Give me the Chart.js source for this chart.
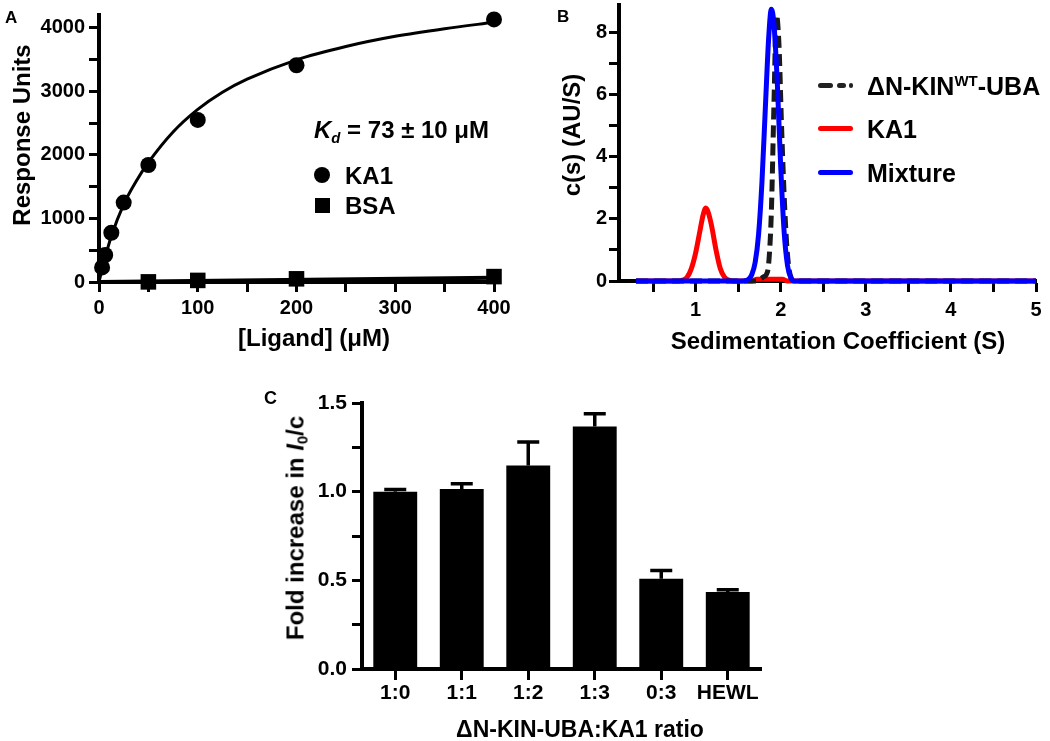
<!DOCTYPE html>
<html><head><meta charset="utf-8">
<script src="https://cdn.jsdelivr.net/npm/chart.js@4.4.1/dist/chart.umd.min.js"></script>
<style>
html,body{margin:0;padding:0;background:#fff;}
body{width:1050px;height:741px;position:relative;overflow:hidden;font-family:'Liberation Sans',Arial,Helvetica,sans-serif;font-weight:bold;color:#000;}
canvas{position:absolute;}
.t{position:absolute;white-space:nowrap;line-height:1;}
.c{transform:translate(-50%,-50%);}
.r{transform:translate(-50%,-50%) rotate(-90deg);}
.m{transform:translate(0,-50%);}
.sub{font-size:0.62em;vertical-align:-0.28em;}
.sup{font-size:0.6em;vertical-align:0.55em;}
.dot{position:absolute;background:#000;}
.ln{position:absolute;height:5px;border-radius:2.5px;}
</style></head><body>
<canvas id="ca" width="530" height="360" style="left:0;top:0"></canvas>
<canvas id="cb" width="520" height="360" style="left:530px;top:0"></canvas>
<canvas id="cc" width="550" height="381" style="left:250px;top:360px"></canvas>

<!-- panel letters -->
<div class="t" style="left:5px;top:9px;font-size:17px">A</div>
<div class="t" style="left:557px;top:8px;font-size:17px">B</div>
<div class="t" style="left:264px;top:389px;font-size:18px">C</div>

<!-- panel A text -->
<div class="t r" style="left:22px;top:135px;font-size:24px">Response Units</div>
<div class="t c" style="left:314px;top:338px;font-size:24px">[Ligand] (μM)</div>
<div class="t m" style="left:314px;top:132px;font-size:24px"><i>K<span class="sub">d</span></i> = 73 ± 10 μM</div>
<div class="dot" style="left:314px;top:167px;width:16px;height:16px;border-radius:50%"></div>
<div class="t m" style="left:345px;top:176px;font-size:24px">KA1</div>
<div class="dot" style="left:315px;top:198px;width:15px;height:15px"></div>
<div class="t m" style="left:345px;top:206px;font-size:24px">BSA</div>

<!-- panel B text -->
<div class="t r" style="left:572px;top:135px;font-size:24px">c(s) (AU/S)</div>
<div class="t c" style="left:838px;top:341px;font-size:24px">Sedimentation Coefficient (S)</div>
<div class="ln" style="left:818px;top:83px;width:15px;background:#222"></div>
<div class="ln" style="left:837px;top:83px;width:9px;background:#222"></div>
<div class="ln" style="left:849px;top:83px;width:4px;background:#222"></div>
<div class="t m" style="left:867px;top:86px;font-size:25px">ΔN-KIN<span class="sup">WT</span>-UBA</div>
<div class="ln" style="left:818px;top:126px;width:35px;background:#ff0000"></div>
<div class="t m" style="left:867px;top:129px;font-size:25px">KA1</div>
<div class="ln" style="left:818px;top:170px;width:35px;background:#0000ff"></div>
<div class="t m" style="left:867px;top:173px;font-size:25px">Mixture</div>

<!-- panel C text -->
<div class="t r" style="left:297px;top:528px;font-size:24px">Fold increase in <i>I</i><span class="sub">0</span>/c</div>
<div class="t c" style="left:580px;top:729px;font-size:23px">ΔN-KIN-UBA:KA1 ratio</div>

<script>
// ---------- Panel A data ----------
const ka1Conc = [3.125, 6.25, 12.5, 25, 50, 100, 200, 400];
const ka1Resp = [230, 425, 775, 1250, 1840, 2550, 3410, 4130];
const bsaConc = [50, 100, 200, 400];
const bsaResp = [2, 25, 50, 85];
const ka1FitConc = [0, 3.125, 6.25, 12.5, 25, 37.5, 50, 75, 100, 125, 150, 200, 250, 300, 350, 400];
const ka1FitResp = [0, 200, 390, 720, 1220, 1580, 1880, 2360, 2715, 2985, 3190, 3495, 3705, 3865, 3985, 4085];
const bsaFitConc = [0, 400];
const bsaFitResp = [0, 65];
const aXTicks = [0, 50, 100, 150, 200, 250, 300, 350, 400];
const aXLabels = [0, 100, 200, 300, 400];
const aYTicks = [0, 500, 1000, 1500, 2000, 2500, 3000, 3500, 4000];
const aYLabels = [0, 1000, 2000, 3000, 4000];

// ---------- Panel B data ----------
const sedKA1 = [0.3, 0.80, 0.85, 0.90, 0.95, 1.00, 1.05, 1.09, 1.12, 1.15, 1.19, 1.24, 1.29, 1.34, 1.39, 1.44, 1.66, 1.72, 2.02, 2.08, 5.0];
const csKA1  = [0,   0,    0.03, 0.12, 0.40, 0.90, 1.60, 2.15, 2.35, 2.20, 1.75, 1.00, 0.40, 0.12, 0.03, 0,    0,    0.06, 0.06, 0,    0];
const sedMix = [0.3, 1.55, 1.62, 1.66, 1.70, 1.74, 1.78, 1.82, 1.86, 1.89, 1.92, 1.96, 2.00, 2.04, 2.08, 2.12, 2.16, 5.0];
const csMix  = [0,   0,    0.05, 0.20, 0.60, 1.50, 3.20, 5.60, 7.90, 8.76, 8.30, 6.40, 3.70, 1.60, 0.50, 0.10, 0,    0];
const sedWT  = [0.3, 1.72, 1.77, 1.80, 1.83, 1.86, 1.89, 1.92, 1.95, 1.98, 2.01, 2.04, 2.07, 2.10, 2.13, 2.16, 5.0];
const csWT   = [0,   0,    0.08, 0.14, 0.20, 0.60, 2.20, 5.60, 8.58, 7.60, 5.00, 2.80, 1.20, 0.35, 0.06, 0,    0];
const bXTicks = [0.5, 1, 1.5, 2, 2.5, 3, 3.5, 4, 4.5, 5];
const bXLabels = [1, 2, 3, 4, 5];
const bYTicks = [0, 1, 2, 3, 4, 5, 6, 7, 8];
const bYLabels = [0, 2, 4, 6, 8];

// ---------- Panel C data ----------
const ratioLabels = ['1:0', '1:1', '1:2', '1:3', '0:3', 'HEWL'];
const foldMean = [1.00, 1.015, 1.147, 1.368, 0.509, 0.434];
const foldErr  = [0.012, 0.030, 0.133, 0.072, 0.046, 0.013];
const cYTicks = [0, 0.25, 0.5, 0.75, 1.0, 1.25, 1.5];
const cYLabels = [0, 0.5, 1.0, 1.5];

// ---------- helpers ----------
Chart.defaults.font.family = "'Liberation Sans', Arial, Helvetica, sans-serif";
Chart.defaults.font.weight = 'bold';
Chart.defaults.color = '#000';
const zip = (xs, ys) => xs.map((x, i) => ({x: x, y: ys[i]}));

function fixSize(w, h) {
  return function (s) {
    if (w != null) s.width = w;
    if (h != null) s.height = h;
    s.paddingTop = 0; s.paddingBottom = 0; s.paddingLeft = 0; s.paddingRight = 0;
  };
}
function linAxis(o) {
  return {
    type: 'linear', position: o.pos, min: o.min, max: o.max,
    afterBuildTicks: s => { s.ticks = o.ticks.map(v => ({value: v})); },
    afterFit: fixSize(o.w, o.h),
    border: {display: true, color: '#000', width: 4},
    grid: {display: true, drawOnChartArea: false, drawTicks: true, tickLength: o.tl || 10,
           tickWidth: 3, tickColor: '#000', color: '#000'},
    ticks: {autoSkip: false, maxRotation: 0, padding: o.pad, color: '#000',
            font: {size: o.size || 20, weight: 'bold'},
            callback: v => o.labels.some(l => Math.abs(l - v) < 1e-9) ? o.fmt(v) : ''}
  };
}
const baseOpts = {responsive: false, animation: false, events: [],
  plugins: {legend: {display: false}, tooltip: {enabled: false}}};

// ---------- Chart A ----------
new Chart(document.getElementById('ca'), {
  type: 'scatter',
  data: {datasets: [
    {data: zip(ka1FitConc, ka1FitResp), showLine: true, borderColor: '#000', borderWidth: 3,
     pointRadius: 0, cubicInterpolationMode: 'monotone', clip: false},
    {data: zip(bsaFitConc, bsaFitResp), showLine: true, borderColor: '#000', borderWidth: 4,
     pointRadius: 0, clip: false},
    {data: zip(ka1Conc, ka1Resp), pointStyle: 'circle', pointRadius: 8, backgroundColor: '#000',
     borderColor: '#000', borderWidth: 0, clip: false},
    {data: zip(bsaConc, bsaResp), pointStyle: 'rect', pointRadius: 11, backgroundColor: '#000',
     borderColor: '#000', borderWidth: 0, clip: false}
  ]},
  options: Object.assign({}, baseOpts, {
    layout: {padding: {top: 15, right: 36, left: 0, bottom: 0}},
    scales: {
      x: linAxis({pos: 'bottom', min: 0, max: 400, ticks: aXTicks, labels: aXLabels, fmt: v => String(v), h: 78, pad: 4, size: 20}),
      y: linAxis({pos: 'left', min: 0, max: 4200, ticks: aYTicks, labels: aYLabels, fmt: v => String(v), w: 99, pad: 4, size: 20})
    }
  })
});

// ---------- Chart B ----------
new Chart(document.getElementById('cb'), {
  type: 'scatter',
  data: {datasets: [
    {label: 'Mixture', data: zip(sedMix, csMix), showLine: true, borderColor: '#0000ff', borderWidth: 5,
     pointRadius: 0, cubicInterpolationMode: 'monotone', clip: false, order: 0},
    {label: 'ΔN-KIN-WT-UBA', data: zip(sedWT, csWT), showLine: true, borderColor: '#1a1a1a', borderWidth: 5,
     borderDash: [12, 6], pointRadius: 0, cubicInterpolationMode: 'monotone', clip: false, order: 1},
    {label: 'KA1', data: zip(sedKA1, csKA1), showLine: true, borderColor: '#ff0000', borderWidth: 5,
     pointRadius: 0, cubicInterpolationMode: 'monotone', clip: false, order: 2}
  ]},
  options: Object.assign({}, baseOpts, {
    layout: {padding: {top: 5, right: 14, left: 0, bottom: 0}},
    scales: {
      x: linAxis({pos: 'bottom', min: 0.1, max: 5, ticks: bXTicks, labels: bXLabels, fmt: v => String(v), h: 79, pad: 6, tl: 11, size: 20}),
      y: linAxis({pos: 'left', min: 0, max: 8.9, ticks: bYTicks, labels: bYLabels, fmt: v => String(v), w: 89, pad: 2, size: 20})
    }
  })
});

// ---------- Chart C ----------
const errorBars = {
  id: 'errorBars',
  afterDatasetsDraw(chart) {
    const ctx = chart.ctx, y = chart.scales.y;
    const meta = chart.getDatasetMeta(0);
    ctx.save();
    ctx.strokeStyle = '#000';
    ctx.lineWidth = 3.5;
    meta.data.forEach((bar, i) => {
      const base = y.getPixelForValue(foldMean[i]);
      const top = y.getPixelForValue(foldMean[i] + foldErr[i]);
      ctx.beginPath();
      ctx.moveTo(bar.x, base); ctx.lineTo(bar.x, top);
      ctx.moveTo(bar.x - 11, top); ctx.lineTo(bar.x + 11, top);
      ctx.stroke();
    });
    ctx.restore();
  }
};
const cY = linAxis({pos: 'left', min: 0, max: 1.5, ticks: cYTicks, labels: cYLabels, fmt: v => v.toFixed(1), w: 112, pad: 5, size: 21});
new Chart(document.getElementById('cc'), {
  type: 'bar',
  data: {labels: ratioLabels, datasets: [{data: foldMean, backgroundColor: '#000', borderWidth: 0,
    barPercentage: 0.66, categoryPercentage: 1}]},
  options: Object.assign({}, baseOpts, {
    layout: {padding: {top: 43, right: 39, left: 0, bottom: 0}},
    scales: {
      x: {type: 'category', position: 'bottom', offset: true, afterFit: fixSize(null, 72),
          border: {display: true, color: '#000', width: 4},
          grid: {display: true, offset: false, drawOnChartArea: false, drawTicks: true, tickLength: 11,
                 tickWidth: 3, tickColor: '#000', color: '#000'},
          ticks: {autoSkip: false, maxRotation: 0, padding: 1, color: '#000', font: {size: 21, weight: 'bold'}}},
      y: cY
    }
  }),
  plugins: [errorBars]
});
</script>
</body></html>
